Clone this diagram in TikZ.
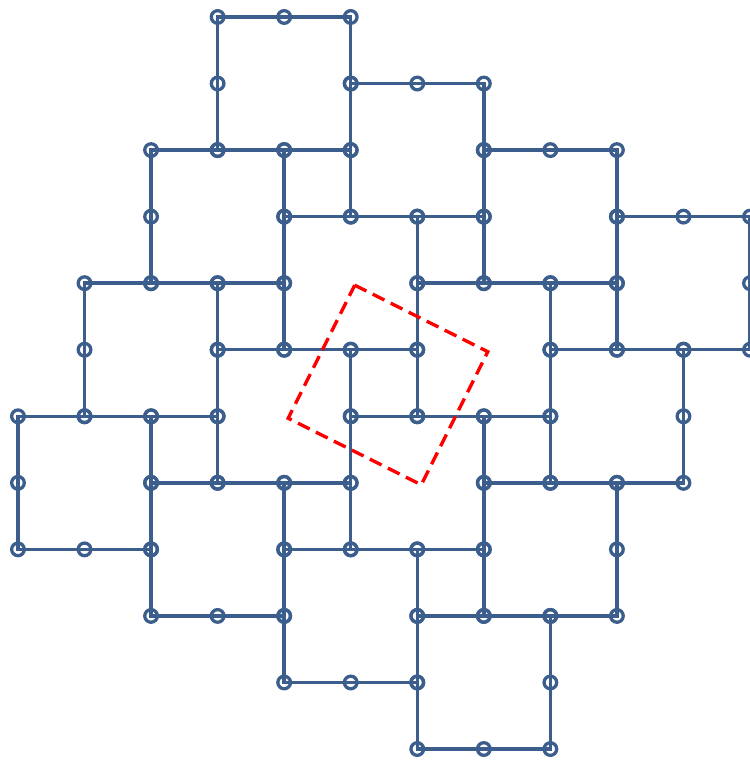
\documentclass[tikz,border=0pt]{standalone}
\usepackage{xcolor}
\usepackage{tikz}
\definecolor{tileblue}{HTML}{3B5E8C}
\definecolor{cellred}{HTML}{FF0000}
\newcommand{\knotR}{0.095}

\begin{document}
\begin{tikzpicture}[x=1cm,y=-1cm,
  tileedge/.style={draw=tileblue, line width=1.45pt},
  tileknot/.style={draw=tileblue, line width=1.4pt},
  cellbox/.style={draw=cellred, line width=1.4pt, dash pattern=on 5.6pt off 3pt}]
  \useasboundingbox (-0.27,-0.255) rectangle (11.0,11.165);
  % 4x4 tiles, lattice steps (2,1) and (-1,2)
  \foreach \a in {0,...,3}{
    \foreach \b in {0,...,3}{
      \pgfmathtruncatemacro{\tx}{3+2*\a-\b}
      \pgfmathtruncatemacro{\ty}{\a+2*\b}
      \draw[tileedge] (\tx,\ty) rectangle ++(2,2);
      \foreach \dx/\dy in {0/0,1/0,2/0,0/1,2/1,0/2,1/2,2/2}
        \draw[tileknot] (\tx+\dx,\ty+\dy) circle[radius=\knotR];
    }
  }
  % lattice cell
  \coordinate (cellN) at (5.06,4.03);
  \coordinate (cellE) at (7.06,5.03);
  \coordinate (cellS) at (6.06,7.03);
  \coordinate (cellW) at (4.06,6.03);
  \draw[cellbox] (cellN) -- (cellE) -- (cellS) -- (cellW) -- cycle;
\end{tikzpicture}
\end{document}
